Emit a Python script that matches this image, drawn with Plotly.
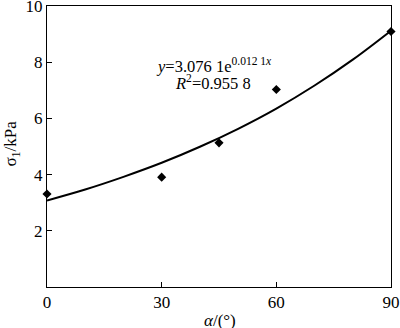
import plotly.graph_objects as go

# measured points
alpha = [0, 30, 45, 60, 90]
sigma = [3.31, 3.91, 5.13, 7.03, 9.09]

# fitted curve, values
fit_x = [0, 10, 20, 30, 40, 50, 60, 70, 80, 90]
fit_y = [3.08, 3.47, 3.92, 4.42, 4.99, 5.63, 6.35, 7.17, 8.09, 9.12]

x_ticks = [0, 30, 60, 90]
y_ticks = [2, 4, 6, 8, 10]

FONT = "Liberation Serif, DejaVu Serif, serif"

fig = go.Figure()
fig.add_trace(go.Scatter(x=fit_x, y=fit_y, mode="lines",
                         line=dict(color="black", width=2, shape="spline"),
                         showlegend=False, cliponaxis=False))
fig.add_trace(go.Scatter(x=alpha, y=sigma, mode="markers",
                         marker=dict(symbol="diamond", size=7, color="black"),
                         showlegend=False, cliponaxis=False))

fig.add_annotation(x=43.7, y=7.9, xref="x", yref="y", xanchor="center", yanchor="middle",
                   text="<i>y</i>=3.076 1e<sup>0.012 1<i>x</i></sup>", showarrow=False,
                   font=dict(family=FONT, size=16.5, color="black"))
fig.add_annotation(x=43.4, y=7.26, xref="x", yref="y", xanchor="center", yanchor="middle",
                   text="<i>R</i><sup>2</sup>=0.955 8", showarrow=False,
                   font=dict(family=FONT, size=16.5, color="black"))

# axis titles
fig.add_annotation(x=0.503, y=-0.118, xref="paper", yref="paper", xanchor="center", yanchor="middle",
                   text="<i>α</i>/(°)", showarrow=False,
                   font=dict(family=FONT, size=17, color="black"))
fig.add_annotation(x=-0.102, y=0.51, xref="paper", yref="paper", xanchor="center", yanchor="middle",
                   text="σ<sub>1</sub>/kPa", showarrow=False, textangle=-90,
                   font=dict(family=FONT, size=17, color="black"))

axis_common = dict(showgrid=False, zeroline=False, showline=True, linecolor="black",
                   linewidth=1, mirror=True, ticks="inside", ticklen=5, tickcolor="black",
                   ticklabeloverflow="allow", automargin=False,
                   tickfont=dict(family=FONT, size=17, color="black"))

fig.update_xaxes(range=[0, 90], tickvals=x_ticks, ticktext=[str(v) for v in x_ticks],
                 **axis_common)
fig.update_yaxes(range=[0, 10], tickvals=y_ticks, ticktext=[str(v) for v in y_ticks],
                 **axis_common)

fig.update_layout(width=400, height=328, margin=dict(l=47, r=9, t=6, b=41),
                  plot_bgcolor="white", paper_bgcolor="white",
                  font=dict(family=FONT, color="black"))

fig.write_html("out.html", config={"displayModeBar": False},
               post_script="document.body.style.margin='0';")
